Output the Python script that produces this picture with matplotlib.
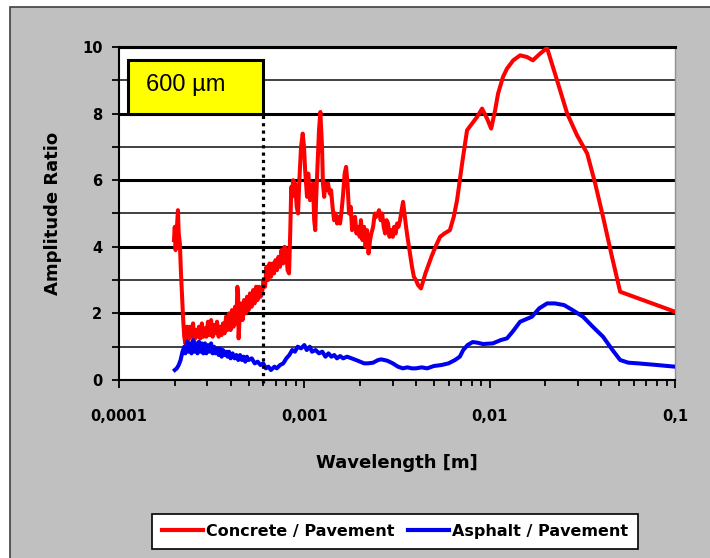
import matplotlib.pyplot as plt
import matplotlib.patheffects as pe
from matplotlib.patches import Rectangle
from matplotlib.ticker import FixedLocator, FixedFormatter, LogLocator, NullFormatter

# Concrete / Pavement amplitude ratio
concrete_wl = [
    1.98e-4, 2.00e-4, 2.02e-4, 2.05e-4, 2.08e-4, 2.10e-4, 2.13e-4, 2.16e-4, 2.19e-4, 2.22e-4,
    2.25e-4, 2.28e-4, 2.30e-4, 2.33e-4, 2.37e-4, 2.42e-4, 2.46e-4, 2.51e-4, 2.55e-4, 2.60e-4,
    2.65e-4, 2.70e-4, 2.75e-4, 2.80e-4, 2.85e-4, 2.91e-4, 2.96e-4, 3.02e-4, 3.08e-4, 3.14e-4,
    3.20e-4, 3.26e-4, 3.32e-4, 3.38e-4, 3.45e-4, 3.51e-4, 3.58e-4, 3.64e-4, 3.71e-4, 3.78e-4,
    3.85e-4, 3.92e-4, 4.00e-4, 4.07e-4, 4.15e-4, 4.23e-4, 4.30e-4, 4.35e-4, 4.39e-4, 4.42e-4,
    4.47e-4, 4.55e-4, 4.64e-4, 4.73e-4, 4.82e-4, 4.91e-4, 5.00e-4, 5.09e-4, 5.19e-4, 5.29e-4,
    5.39e-4, 5.49e-4, 5.59e-4, 5.69e-4, 5.80e-4, 5.91e-4, 6.02e-4, 6.14e-4, 6.25e-4, 6.37e-4,
    6.49e-4, 6.61e-4, 6.74e-4, 6.86e-4, 6.99e-4, 7.12e-4, 7.25e-4, 7.39e-4, 7.53e-4, 7.68e-4,
    7.82e-4, 7.97e-4, 8.12e-4, 8.27e-4, 8.40e-4, 8.50e-4, 8.58e-4, 8.70e-4, 8.91e-4, 9.10e-4,
    9.25e-4, 9.40e-4, 9.60e-4, 9.80e-4, 9.96e-4, 1.010e-3, 1.034e-3, 1.050e-3, 1.073e-3, 1.090e-3,
    1.114e-3, 1.130e-3, 1.145e-3, 1.157e-3, 1.180e-3, 1.200e-3, 1.220e-3, 1.246e-3, 1.260e-3, 1.280e-3,
    1.293e-3, 1.320e-3, 1.343e-3, 1.370e-3, 1.394e-3, 1.420e-3, 1.447e-3, 1.470e-3, 1.502e-3, 1.530e-3,
    1.559e-3, 1.590e-3, 1.620e-3, 1.650e-3, 1.680e-3, 1.710e-3, 1.743e-3, 1.780e-3, 1.810e-3, 1.840e-3,
    1.878e-3, 1.910e-3, 1.950e-3, 1.990e-3, 2.020e-3, 2.060e-3, 2.100e-3, 2.140e-3, 2.180e-3, 2.220e-3,
    2.263e-3, 2.300e-3, 2.350e-3, 2.400e-3, 2.440e-3, 2.490e-3, 2.530e-3, 2.580e-3, 2.630e-3, 2.680e-3,
    2.730e-3, 2.780e-3, 2.830e-3, 2.880e-3, 2.940e-3, 3.000e-3, 3.050e-3, 3.110e-3, 3.165e-3, 3.220e-3,
    3.285e-3, 3.350e-3, 3.410e-3, 3.470e-3, 3.540e-3, 3.600e-3, 3.670e-3, 3.740e-3, 3.810e-3, 3.900e-3,
    4.000e-3, 4.110e-3, 4.260e-3, 4.50e-3, 4.85e-3, 5.10e-3, 5.40e-3, 5.70e-3, 6.10e-3, 6.40e-3,
    6.67e-3, 7.10e-3, 7.55e-3, 8.04e-3, 8.55e-3, 9.10e-3, 9.68e-3, 1.019e-2, 1.07e-2, 1.11e-2,
    1.18e-2, 1.24e-2, 1.34e-2, 1.46e-2, 1.59e-2, 1.71e-2, 1.87e-2, 2.04e-2, 2.31e-2, 2.62e-2,
    2.96e-2, 3.36e-2, 3.71e-2, 4.09e-2, 4.57e-2, 5.06e-2, 1.0e-1,
]
concrete_ratio = [
    4.2, 4.6, 3.9, 4.5, 5.1, 4.4, 4.1, 3.2, 2.5, 1.8,
    1.3, 1.1, 1.4, 1.6, 1.2, 1.6, 1.3, 1.7, 1.2, 1.5,
    1.3, 1.6, 1.25, 1.7, 1.3, 1.55, 1.3, 1.75, 1.35, 1.8,
    1.3, 1.65, 1.4, 1.75, 1.3, 1.6, 1.35, 1.7, 1.4, 1.9,
    1.5, 2.0, 1.5, 2.1, 1.6, 2.2, 1.7, 2.8, 2.6, 1.25,
    1.8, 2.3, 1.8, 2.4, 2.0, 2.5, 2.1, 2.6, 2.2, 2.7,
    2.3, 2.8, 2.4, 2.8, 2.5, 2.6, 3.0, 2.8, 3.4, 3.0,
    3.5, 3.1, 3.5, 3.2, 3.6, 3.3, 3.7, 3.4, 3.9, 3.5,
    4.0, 3.9, 3.3, 3.2, 4.5, 5.8, 5.5, 6.0, 5.9, 5.2,
    5.0, 6.0, 7.0, 7.4, 7.0, 6.3, 5.5, 6.2, 5.4, 5.8,
    5.9, 4.8, 4.5, 5.4, 6.5, 7.5, 8.05, 7.0, 5.9, 5.5,
    5.9, 5.7, 5.9, 5.6, 5.7, 5.2, 4.8, 5.0, 4.7, 4.9,
    4.7, 5.1, 5.6, 6.2, 6.4, 5.9, 5.0, 5.2, 4.5, 4.7,
    4.9, 4.4, 4.6, 4.3, 4.8, 4.2, 4.6, 4.0, 4.5, 3.8,
    4.2, 4.4, 4.6, 5.0, 4.9, 5.0, 5.1, 4.8, 5.0, 4.6,
    4.4, 4.8, 4.7, 4.3, 4.5, 4.3, 4.6, 4.4, 4.7, 4.6,
    4.8, 5.1, 5.35, 5.0, 4.6, 4.3, 4.0, 3.7, 3.4, 3.1,
    3.0, 2.85, 2.75, 3.2, 3.7, 4.0, 4.3, 4.4, 4.5, 4.9,
    5.4, 6.5, 7.5, 7.7, 7.9, 8.15, 7.85, 7.55, 8.1, 8.6,
    9.1, 9.35, 9.6, 9.75, 9.7, 9.6, 9.8, 9.97, 9.0, 8.0,
    7.35, 6.8, 5.9, 4.9, 3.7, 2.65, 2.05,
]

# Asphalt / Pavement amplitude ratio
asphalt_wl = [
    2.00e-4, 2.05e-4, 2.10e-4, 2.15e-4, 2.20e-4, 2.25e-4, 2.28e-4, 2.33e-4, 2.37e-4, 2.42e-4,
    2.46e-4, 2.51e-4, 2.55e-4, 2.60e-4, 2.65e-4, 2.70e-4, 2.75e-4, 2.80e-4, 2.85e-4, 2.91e-4,
    2.96e-4, 3.02e-4, 3.08e-4, 3.14e-4, 3.20e-4, 3.26e-4, 3.32e-4, 3.38e-4, 3.45e-4, 3.51e-4,
    3.58e-4, 3.64e-4, 3.71e-4, 3.78e-4, 3.85e-4, 3.92e-4, 4.00e-4, 4.10e-4, 4.20e-4, 4.30e-4,
    4.40e-4, 4.50e-4, 4.60e-4, 4.70e-4, 4.80e-4, 4.90e-4, 5.00e-4, 5.20e-4, 5.40e-4, 5.60e-4,
    5.80e-4, 6.00e-4, 6.20e-4, 6.40e-4, 6.60e-4, 6.90e-4, 7.10e-4, 7.40e-4, 7.70e-4, 8.00e-4,
    8.30e-4, 8.60e-4, 8.90e-4, 9.20e-4, 9.60e-4, 1.00e-3, 1.03e-3, 1.07e-3, 1.10e-3, 1.15e-3,
    1.20e-3, 1.25e-3, 1.30e-3, 1.35e-3, 1.40e-3, 1.45e-3, 1.50e-3, 1.56e-3, 1.62e-3, 1.70e-3,
    1.80e-3, 1.90e-3, 2.00e-3, 2.10e-3, 2.20e-3, 2.35e-3, 2.50e-3, 2.60e-3, 2.80e-3, 3.00e-3,
    3.20e-3, 3.40e-3, 3.60e-3, 3.80e-3, 4.00e-3, 4.30e-3, 4.60e-3, 5.00e-3, 5.50e-3, 6.00e-3,
    6.50e-3, 6.90e-3, 7.20e-3, 7.60e-3, 8.10e-3, 8.60e-3, 9.20e-3, 1.04e-2, 1.15e-2, 1.24e-2,
    1.33e-2, 1.46e-2, 1.69e-2, 1.85e-2, 2.04e-2, 2.25e-2, 2.52e-2, 2.80e-2, 3.19e-2, 3.60e-2,
    4.09e-2, 4.60e-2, 5.06e-2, 5.60e-2, 6.30e-2, 8.00e-2, 1.0e-1,
]
asphalt_ratio = [
    0.3, 0.35, 0.45, 0.6, 0.85, 1.0, 0.8, 1.15, 0.85, 1.1,
    0.8, 1.2, 0.85, 1.1, 0.8, 1.15, 0.85, 1.1, 0.8, 1.1,
    0.8, 1.05, 0.85, 1.1, 0.8, 1.0, 0.8, 0.95, 0.75, 0.95,
    0.7, 0.9, 0.75, 0.85, 0.7, 0.85, 0.65, 0.8, 0.65, 0.75,
    0.6, 0.75, 0.6, 0.7, 0.55, 0.7, 0.6, 0.65, 0.5, 0.55,
    0.45, 0.5, 0.35, 0.4, 0.3, 0.4, 0.35, 0.45, 0.5, 0.65,
    0.75, 0.9, 0.85, 1.0, 0.95, 1.05, 0.9, 1.0, 0.85, 0.9,
    0.8, 0.85, 0.7, 0.8, 0.7, 0.75, 0.65, 0.72, 0.65, 0.7,
    0.65, 0.6, 0.55, 0.5, 0.5, 0.52, 0.6, 0.62, 0.58, 0.5,
    0.4, 0.35, 0.38, 0.35, 0.35, 0.38, 0.35, 0.42, 0.45, 0.5,
    0.6, 0.7, 0.9, 1.05, 1.14, 1.12, 1.08, 1.1, 1.2, 1.25,
    1.45, 1.75, 1.9, 2.15, 2.3, 2.3, 2.25, 2.1, 1.9, 1.6,
    1.3, 0.9, 0.6, 0.52, 0.5, 0.45, 0.4,
]

x_ticks = [1e-4, 1e-3, 1e-2, 1e-1]
x_tick_labels = ["0,0001", "0,001", "0,01", "0,1"]
y_ticks = [0, 2, 4, 6, 8, 10]
marker_wl = 6e-4
box_label = "600 µm"

fig = plt.figure(figsize=(7.1, 5.58), dpi=100)
fig.patch.set_facecolor("white")
fig.patches.append(Rectangle((10 / 710, -0.05), 1.1, 1.0375, transform=fig.transFigure,
                             facecolor="#C0C0C0", edgecolor="#404040", lw=1.2, zorder=-1))

ax = fig.add_axes([119 / 710, 178 / 558, 556 / 710, 333 / 558])
ax.set_facecolor("white")
ax.set_xscale("log")
ax.set_xlim(1e-4, 0.1)
ax.set_ylim(0, 10)

ax.plot(concrete_wl, concrete_ratio, color="#FF0000", lw=2.9, label="Concrete / Pavement", zorder=3)
ax.plot(asphalt_wl, asphalt_ratio, color="#0000F0", lw=2.9, label="Asphalt / Pavement", zorder=3)

# y grid: heavy lines at even values, lighter at odd ones
ax.set_axisbelow(True)
ax.yaxis.set_major_locator(FixedLocator(y_ticks))
ax.yaxis.set_minor_locator(FixedLocator([1, 3, 5, 7, 9]))
ax.grid(which="major", axis="y", color="black", lw=2.2)
ax.grid(which="minor", axis="y", color="#202020", lw=1.2)
ax.grid(which="major", axis="x", visible=False)

ax.xaxis.set_major_locator(FixedLocator(x_ticks))
ax.xaxis.set_major_formatter(FixedFormatter(x_tick_labels))
ax.xaxis.set_minor_locator(LogLocator(base=10, subs=range(2, 10)))
ax.xaxis.set_minor_formatter(NullFormatter())

ax.tick_params(axis="x", which="major", direction="out", length=6, width=1.3, pad=15)
ax.tick_params(axis="x", which="minor", direction="out", length=4, width=1.3)
ax.tick_params(axis="y", which="both", direction="out", length=5, width=1.3, pad=7)
for lab in ax.get_xticklabels() + ax.get_yticklabels():
    lab.set_fontweight("bold")
    lab.set_fontsize(10.5)

for side in ("left", "bottom", "top"):
    ax.spines[side].set_color("black")
    ax.spines[side].set_linewidth(1.5)
ax.spines["top"].set_linewidth(2.2)
ax.spines["right"].set_color("#909090")
ax.spines["right"].set_linewidth(1)

ax.set_xlabel("Wavelength [m]", fontweight="bold", fontsize=13)
ax.xaxis.set_label_coords(0.5, -0.222)
ax.set_ylabel("Amplitude Ratio", fontweight="bold", fontsize=13)
ax.yaxis.set_label_coords(-0.1025, 0.5)

# dotted marker at 600 µm and its label box
ax.plot([marker_wl, marker_wl], [-0.1, 8.0], color="black", lw=2.3,
        linestyle=(0, (1.0, 1.3)), clip_on=False, zorder=4)
box = Rectangle((1.12e-4, 8.0), marker_wl - 1.12e-4, 1.62, facecolor="#FFFF00",
                edgecolor="black", lw=2.2, zorder=5)
box.set_path_effects([pe.SimplePatchShadow(offset=(1.5, -1.5), shadow_rgbFace="black", alpha=1),
                      pe.Normal()])
ax.add_patch(box)
ax.text(2.3e-4, 8.87, box_label, ha="center", va="center", fontsize=17,
        family="Liberation Sans", zorder=6)

leg = fig.legend(loc="center", bbox_to_anchor=(395 / 710, 1 - 531.5 / 558), ncol=2,
                 frameon=True, fancybox=False, framealpha=1, edgecolor="black",
                 prop={"weight": "bold", "size": 11.5},
                 handlelength=2.6, handletextpad=0.2, columnspacing=0.8, borderpad=0.6)
leg.get_frame().set_linewidth(1.2)
for line in leg.get_lines():
    line.set_linewidth(3)

fig.savefig("out.png", dpi=100)
